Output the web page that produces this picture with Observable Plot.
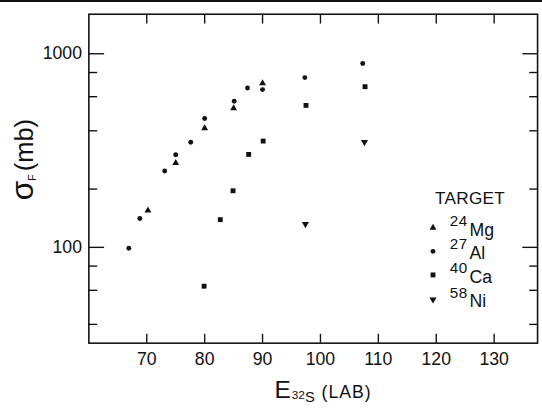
<!DOCTYPE html>
<html><head><meta charset="utf-8">
<script src="https://cdn.jsdelivr.net/npm/d3@7"></script>
<script src="https://cdn.jsdelivr.net/npm/@observablehq/plot@0.6"></script>
<style>
html,body{margin:0;padding:0;background:#fff;}
#wrap{position:relative;width:542px;height:410px;overflow:hidden;background:#fff;}
#topline{position:absolute;left:0;top:0;width:542px;height:2px;background:#111;z-index:2;}
#chart{position:absolute;left:0;top:0;}
</style></head><body>
<div id="wrap"><div id="topline"></div><div id="chart"></div></div>
<script>
// Fission cross section sigma_F (mb) vs E(32S) lab energy (MeV)
const mgEnergy = [70.2, 75.0, 80.0, 85.0, 90.0];
const mgSigma  = [155, 273, 412, 523, 704];
const alEnergy = [66.9, 68.8, 73.1, 75.0, 77.6, 80.0, 85.1, 87.4, 90.0, 97.3, 107.3];
const alSigma  = [99, 141, 248, 301, 349, 463, 568, 665, 653, 753, 891];
const caEnergy = [79.9, 82.7, 84.9, 87.6, 90.1, 97.5, 107.7];
const caSigma  = [63, 139, 196, 302, 354, 541, 676];
const niEnergy = [97.4, 107.6];
const niSigma  = [132, 350];

const xTicks = [70, 80, 90, 100, 110, 120, 130];
const yMajorTicks = [100, 1000];
const yMinorTicks = [40, 60, 80, 200, 400, 600, 800];
const legendTitle = "TARGET";
const massNumbers = ["24", "27", "40", "58"];
const elements = ["Mg", "Al", "Ca", "Ni"];

const zip = (xs, ys) => xs.map((x, i) => ({x, y: ys[i]}));
const mg = zip(mgEnergy, mgSigma);
const al = zip(alEnergy, alSigma);
const ca = zip(caEnergy, caSigma);
const ni = zip(niEnergy, niSigma);

const FONT = "'Liberation Sans', Arial, sans-serif";
const ink = "#111";

const chart = Plot.plot({
  width: 552,
  height: 410,
  marginLeft: 90,
  marginRight: 5,
  marginTop: 14,
  marginBottom: 61,
  style: {fontFamily: FONT, color: ink, background: "transparent", overflow: "visible"},
  x: {domain: [60, 137.5]},
  y: {type: "log", domain: [32, 1600]},
  marks: [
    Plot.frame({stroke: ink, strokeWidth: 1.6}),
    Plot.axisX({anchor: "bottom", ticks: xTicks, tickSize: -9, fill: "none", label: null, strokeWidth: 1.4}),
    Plot.axisX({anchor: "top", ticks: xTicks, tickSize: -9, fill: "none", label: null, strokeWidth: 1.4}),
    Plot.axisX({anchor: "bottom", ticks: xTicks, tickSize: 0, tickPadding: 9, label: null, fontSize: 18, tickFormat: d3.format("d")}),
    Plot.axisY({anchor: "left", ticks: yMajorTicks, tickSize: -16, fill: "none", label: null, strokeWidth: 1.4}),
    Plot.axisY({anchor: "left", ticks: yMinorTicks, tickSize: -9, fill: "none", label: null, strokeWidth: 1.4}),
    Plot.axisY({anchor: "right", ticks: yMajorTicks, tickSize: -16, fill: "none", label: null, strokeWidth: 1.4}),
    Plot.axisY({anchor: "right", ticks: yMinorTicks, tickSize: -9, fill: "none", label: null, strokeWidth: 1.4}),
    Plot.axisY({anchor: "left", ticks: yMajorTicks, tickSize: 0, tickPadding: 7, label: null, fontSize: 18, tickFormat: d3.format("d")}),
    Plot.dot(ca, {x: "x", y: "y", symbol: "square", r: 2.8, fill: ink, stroke: null}),
    Plot.dot(ni, {x: "x", y: "y", symbol: "triangle", r: 2.7, rotate: 180, fill: ink, stroke: null}),
    Plot.dot(al, {x: "x", y: "y", symbol: "circle", r: 2.5, fill: ink, stroke: null}),
    Plot.dot(mg, {x: "x", y: "y", symbol: "triangle", r: 2.6, fill: ink, stroke: null})
  ]
});
document.getElementById("chart").appendChild(chart);

const svg = d3.select(chart);

// y-axis title: sigma_F (mb)
const yt = svg.append("text")
  .attr("transform", "translate(34,204) rotate(-90)")
  .attr("font-family", FONT).attr("fill", ink).attr("text-anchor", "start");
yt.append("tspan").attr("font-size", 32).text("σ");
yt.append("tspan").attr("font-size", 11).attr("dy", 3).text("F");
yt.append("tspan").attr("font-size", 26).attr("dy", -3).attr("dx", 3).text("(mb)");

// x-axis title: E 32S (LAB)
const xt = svg.append("text")
  .attr("x", 329).attr("y", 405)
  .attr("font-family", FONT).attr("fill", ink).attr("text-anchor", "middle");
xt.append("tspan").attr("font-size", 25).text("E");
xt.append("tspan").attr("font-size", 12).attr("dy", 1).attr("dx", 1).text("32");
xt.append("tspan").attr("font-size", 15).attr("dy", 3).text("S");
xt.append("tspan").attr("font-size", 18).attr("dy", -4).attr("dx", 7).attr("letter-spacing", 1).text("(LAB)");

// legend
const lg = svg.append("g").attr("font-family", FONT).attr("fill", ink).attr("text-anchor", "start");
lg.append("text").attr("x", 443).attr("y", 208).attr("font-size", 17.5).attr("letter-spacing", 0.3).text(legendTitle);
const symbols = [
  {type: d3.symbolTriangle, r: 2.6, rot: 0},
  {type: d3.symbolCircle, r: 2.5, rot: 0},
  {type: d3.symbolSquare, r: 2.8, rot: 0},
  {type: d3.symbolTriangle, r: 2.7, rot: 180}
];
const rowY = [232, 256, 280, 305];
elements.forEach((el, i) => {
  const s = symbols[i];
  lg.append("path")
    .attr("d", d3.symbol(s.type, Math.PI * s.r * s.r)())
    .attr("transform", `translate(441,${rowY[i]}) rotate(${s.rot})`)
    .attr("fill", ink);
  const t = lg.append("text").attr("x", 458).attr("y", rowY[i] - 2);
  t.append("tspan").attr("font-size", 15.5).attr("letter-spacing", 0.5).text(massNumbers[i]);
  t.append("tspan").attr("font-size", 18).attr("dy", 10).attr("dx", 2).text(el);
});
</script>
</body></html>
